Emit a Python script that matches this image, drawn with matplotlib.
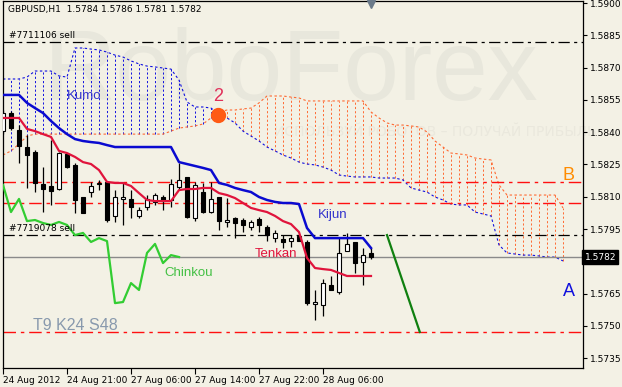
import numpy as np
import matplotlib
matplotlib.use("Agg")
import matplotlib.pyplot as plt
import matplotlib.transforms as mtransforms

# GBPUSD H1 candles, bar 0 = 24 Aug 2012 13:00
opens = [1.58405, 1.58489, 1.58410, 1.58331, 1.58308, 1.58159, 1.58150, 1.58136, 1.58299, 1.58248,
         1.58099, 1.58122, 1.58159, 1.58169, 1.58011, 1.58090, 1.58090, 1.58011, 1.58052, 1.58076,
         1.58099, 1.58085, 1.58145, 1.58192, 1.58001, 1.58122, 1.58029, 1.58099, 1.57983, 1.58001,
         1.57992, 1.57960, 1.57997, 1.57960, 1.57908, 1.57904, 1.57894, 1.57918, 1.57890, 1.57602,
         1.57597, 1.57690, 1.57658, 1.57848, 1.57890, 1.57797, 1.5784]
highs = [1.58503, 1.58498, 1.58433, 1.58387, 1.58317, 1.58238, 1.58364, 1.58308, 1.58303, 1.58257,
         1.58099, 1.58169, 1.58178, 1.58169, 1.58131, 1.58164, 1.58131, 1.58052, 1.58108, 1.58117,
         1.58108, 1.58183, 1.58257, 1.58192, 1.58169, 1.58164, 1.58169, 1.58099, 1.58094, 1.58006,
         1.58001, 1.57992, 1.58006, 1.57969, 1.57946, 1.57922, 1.57922, 1.57922, 1.57899, 1.57667,
         1.57718, 1.57732, 1.57908, 1.57932, 1.57890, 1.57862, 1.5786]
lows = [1.58391, 1.58410, 1.58257, 1.58141, 1.58122, 1.58029, 1.58062, 1.58131, 1.58234, 1.58025,
        1.58025, 1.58099, 1.58131, 1.57983, 1.57983, 1.57969, 1.58001, 1.58001, 1.58038, 1.58062,
        1.58038, 1.58052, 1.58131, 1.58001, 1.57987, 1.58025, 1.58025, 1.57946, 1.57960, 1.57908,
        1.57936, 1.57946, 1.57936, 1.57894, 1.57890, 1.57862, 1.57867, 1.57894, 1.57597, 1.57528,
        1.57546, 1.57667, 1.57648, 1.57848, 1.57746, 1.57690, 1.5781]
closes = [1.58489, 1.58419, 1.58336, 1.58294, 1.58164, 1.58136, 1.58127, 1.58303, 1.58238, 1.58085,
          1.58025, 1.58150, 1.58164, 1.57992, 1.58099, 1.58099, 1.58052, 1.58038, 1.58090, 1.58108,
          1.58080, 1.58159, 1.58178, 1.58006, 1.58155, 1.58029, 1.58090, 1.57987, 1.57992, 1.57978,
          1.57969, 1.57983, 1.57969, 1.57922, 1.57932, 1.57890, 1.57908, 1.57894, 1.57606, 1.57611,
          1.57699, 1.57667, 1.57839, 1.57881, 1.57792, 1.57829, 1.5782]

tenkan = [1.58466, 1.58466, 1.58466, 1.58415, 1.58405, 1.58391, 1.58378, 1.58313, 1.58303, 1.58285,
          1.58261, 1.58252, 1.58224, 1.58169, 1.58164, 1.58164, 1.58150, 1.58117, 1.58085, 1.58080,
          1.58080, 1.58080, 1.58131, 1.58136, 1.58136, 1.58141, 1.58141, 1.58117, 1.58108, 1.58094,
          1.58071, 1.58048, 1.58038, 1.58029, 1.58011, 1.57987, 1.57973, 1.57936, 1.57816, 1.57769,
          1.57764, 1.57760, 1.57746, 1.57732, 1.57732, 1.57732, 1.57732]
kijun = [1.58573, 1.58573, 1.58573, 1.58536, 1.58512, 1.58489, 1.58452, 1.58419, 1.58391, 1.58368,
         1.58359, 1.58354, 1.58350, 1.58340, 1.58331, 1.58331, 1.58331, 1.58331, 1.58331, 1.58331,
         1.58331, 1.58331, 1.58261, 1.58252, 1.58243, 1.58234, 1.58224, 1.58164, 1.58155, 1.58141,
         1.58131, 1.58122, 1.58099, 1.58085, 1.58076, 1.58071, 1.58071, 1.58066, 1.57955, 1.57908,
         1.57908, 1.57908, 1.57908, 1.57908, 1.57908, 1.57908, 1.57862]
# senkou spans run 24 bars past the last candle
span_a = [1.58647, 1.58647, 1.58647, 1.58656, 1.58684, 1.58684, 1.58684, 1.58661, 1.58656, 1.58791,
          1.58791, 1.58786, 1.58782, 1.58772, 1.58758, 1.58749, 1.58731, 1.58717, 1.58707, 1.58703,
          1.58698, 1.58693, 1.58642, 1.58540, 1.58517, 1.58517, 1.58512, 1.58484, 1.58466, 1.58443,
          1.58405, 1.58382, 1.58359, 1.58331, 1.58313, 1.58294, 1.58280, 1.58261, 1.58252, 1.58248,
          1.58238, 1.58224, 1.58201, 1.58196, 1.58192, 1.58192, 1.58192, 1.58187, 1.58187, 1.58187,
          1.58178, 1.58141, 1.58131, 1.58122, 1.58099, 1.58085, 1.58066, 1.58062, 1.58062, 1.58029,
          1.58020, 1.58011, 1.57876, 1.57839, 1.57834, 1.57829, 1.57829, 1.57825, 1.57820, 1.57820,
          1.57802]
span_b = [1.58294, 1.58313, 1.58345, 1.58382, 1.58391, 1.58391, 1.58391, 1.58391, 1.58391, 1.58391,
          1.58391, 1.58391, 1.58391, 1.58391, 1.58391, 1.58391, 1.58391, 1.58391, 1.58391, 1.58391,
          1.58391, 1.58405, 1.58419, 1.58424, 1.58429, 1.58438, 1.58466, 1.58494, 1.58503, 1.58503,
          1.58508, 1.58512, 1.58536, 1.58568, 1.58568, 1.58568, 1.58563, 1.58559, 1.58545, 1.58545,
          1.58545, 1.58545, 1.58545, 1.58545, 1.58545, 1.58545, 1.58494, 1.58466, 1.58443, 1.58433,
          1.58433, 1.58429, 1.58424, 1.58401, 1.58359, 1.58331, 1.58303, 1.58299, 1.58294, 1.58280,
          1.58275, 1.58271, 1.58155, 1.58108, 1.58108, 1.58108, 1.58108, 1.58108, 1.58108, 1.58108,
          1.58048]
shift = 24

order_labels = ["#7711106 sell", "#7719078 sell"]
order_prices = [1.58819, 1.57922]
level_prices = [1.58169, 1.58071, 1.57472]
trend_x = [48, 52.1]
trend_y = [1.57922, 1.57472]
cross_bar = 26.9
cross_price = 1.5848
last_price = 1.5782
header = "GBPUSD,H1  1.5784 1.5786 1.5781 1.5782"

price_ticks = [1.5900, 1.5885, 1.5870, 1.5855, 1.5840, 1.5825, 1.5810, 1.5795, 1.5765, 1.5750, 1.5735]
time_ticks = [0, 8, 16, 24, 32, 40]
time_labels = ["24 Aug 2012", "24 Aug 21:00", "27 Aug 06:00", "27 Aug 14:00", "27 Aug 22:00", "28 Aug 06:00"]

BG = "#f3f1e5"
A_COL = "#1010e0"
B_COL = "#ff6a33"

fig = plt.figure(figsize=(6.22, 3.87), dpi=100)
fig.patch.set_facecolor(BG)
ax = fig.add_axes([3 / 622, 19 / 387, 580 / 622, 367 / 387])
ax.set_facecolor(BG)
ax.set_xlim(0, 72.5)
ax.set_ylim(1.573046, 1.590093)

# watermark
ax.text(36, 1.5867, "RoboForex", fontsize=72, color="#e8e7dc", ha="center", va="center",
        family="Liberation Sans", zorder=0)
ax.text(54, 1.5840, "ИСПОЛЬЗУЙ РОБОТОВ – ПОЛУЧАЙ ПРИБЫЛЬ", fontsize=10, color="#eae8dd",
        ha="center", va="center", family="DejaVu Sans", zorder=0)

# kumo
bars_ahead = np.arange(len(span_a))
a = np.array(span_a)
b = np.array(span_b)
hatch_cols = [A_COL if a[i] >= b[i] else B_COL for i in range(len(a))]
ax.vlines(bars_ahead, np.minimum(a, b), np.maximum(a, b), colors=hatch_cols,
          linestyles=(0, (2.2, 2.2)), lw=0.7, zorder=1)
ax.plot(bars_ahead, a, color=A_COL, lw=0.8, ls=(0, (2.2, 2.2)), zorder=1.5)
ax.plot(bars_ahead, b, color=B_COL, lw=0.8, ls=(0, (2.2, 2.2)), zorder=1.5)

# horizontal levels
for lab, p in zip(order_labels, order_prices):
    ax.axhline(p, color="black", lw=0.9, dashes=(9, 3.5, 2.5, 3.5), zorder=2)
    ax.text(0.7, p + 0.00008, lab, fontsize=6.5, color="black", va="bottom", ha="left", zorder=6)
for p in level_prices:
    ax.axhline(p, color="#ff1010", lw=1.0, dashes=(9, 3.5, 2.5, 3.5), zorder=2)
ax.axhline(last_price, color="#8a8a8a", lw=1.0, zorder=2)
ax.plot(trend_x, trend_y, color="#108010", lw=1.6, zorder=3)

# candles
idx = np.arange(len(opens))
o = np.array(opens)
c = np.array(closes)
ax.vlines(idx, lows, highs, color="black", lw=0.9, zorder=3)
body_lo = np.minimum(o, c)
body_h = np.maximum(np.abs(c - o), 0.00002)
face = ["white" if cc >= oo else "black" for oo, cc in zip(o, c)]
ax.bar(idx, body_h, bottom=body_lo, width=0.62, color=face, edgecolor="black", lw=0.8, zorder=4)

# ichimoku lines
ax.plot(idx, tenkan, color="#e0143c", lw=1.6, zorder=5)
ax.plot(idx, kijun, color="#0a0ad0", lw=1.8, zorder=5)
chinkou = c[shift:]
ax.plot(np.arange(len(chinkou)), chinkou, color="#32cd32", lw=1.6, zorder=5)

# crossing point
ax.plot([cross_bar], [cross_price], "o", ms=10, color="#ff5a14", zorder=6)
ax.text(cross_bar, cross_price + 0.00045, "2", fontsize=13, color="#e0305a",
        ha="center", va="bottom", family="Liberation Sans", zorder=6)

lab_kw = dict(family="Liberation Sans", fontsize=9.5, zorder=6)
ax.text(8, 1.5857, "Kumo", color="#3333cc", va="center", **lab_kw)
ax.text(39.3, 1.58015, "Kijun", color="#3333cc", va="center", **lab_kw)
ax.text(31.5, 1.57833, "Tenkan", color="#e0143c", va="center", **lab_kw)
ax.text(20.2, 1.57745, "Chinkou", color="#44c044", va="center", **lab_kw)
ax.text(3.8, 1.5750, "T9 K24 S48", color="#8899ad", fontsize=11.5, family="Liberation Sans",
        va="center", zorder=6)
ax.text(70.0, 1.58200, "B", color="#ff8c00", fontsize=13, family="Liberation Sans",
        va="center", zorder=6)
ax.text(70.0, 1.57660, "A", color="#1010dd", fontsize=13, family="Liberation Sans",
        va="center", zorder=6)
ax.text(0.0078, 0.978, header, transform=ax.transAxes, fontsize=6.5, va="center", ha="left", zorder=6)

# small chart markers
ax.plot([46], [1.58995], marker="v", ms=6, color="#6a7a8a", zorder=6, clip_on=False)

# axes
for s in ["left", "bottom", "right", "top"]:
    ax.spines[s].set_linewidth(0.9)
    ax.spines[s].set_color("black")
ax.yaxis.tick_right()
ax.set_yticks(price_ticks)
ax.set_yticklabels([f"{p:.4f}" for p in price_ticks])
ax.set_xticks(time_ticks)
ax.set_xticklabels(time_labels)
ax.tick_params(axis="y", length=3, width=0.8, pad=2, labelsize=6.5)
ax.tick_params(axis="x", length=4, width=0.8, pad=2, labelsize=6.5)
for t in ax.get_xticklabels():
    t.set_horizontalalignment("left")

tr = mtransforms.blended_transform_factory(ax.transAxes, ax.transData)
ax.text(1.003, last_price, f"{last_price:.4f}", transform=tr, fontsize=6.5, color="white",
        va="center", ha="left", zorder=7,
        bbox=dict(boxstyle="square,pad=0.25", facecolor="black", edgecolor="black"))

fig.savefig("out.png", dpi=100, facecolor=BG)
